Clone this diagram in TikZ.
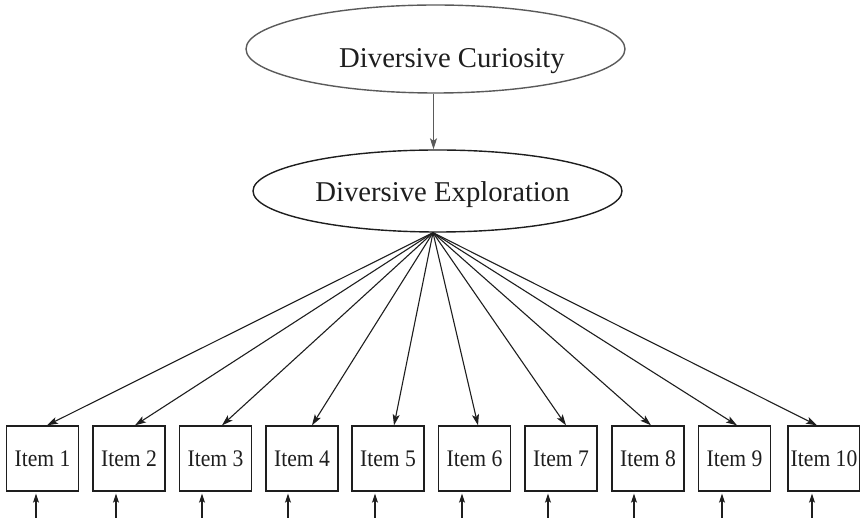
\documentclass[tikz,border=0pt]{standalone}
\usepackage{fontspec}
\usepackage{graphicx}
\setmainfont{Liberation Serif}
\usetikzlibrary{shapes.geometric,arrows.meta}
\definecolor{ink}{HTML}{1E1E1E}
\definecolor{softink}{HTML}{5A5A5A}
\begin{document}
\begin{tikzpicture}[x=1pt,y=-1pt,
  latent/.style={ellipse,draw=ink,line width=1.4pt,inner sep=0pt},
  bigtext/.style={anchor=base,text=ink,font=\fontsize{28.7}{34}\selectfont},
  itembox/.style={draw=ink,line width=1.3pt,minimum width=72pt,minimum height=65pt,
    inner sep=0pt,text=ink,font=\fontsize{21.6}{25}\selectfont},
  load/.style={draw=ink,line width=1.1pt,-{Stealth[length=11pt,width=7pt,inset=2.5pt]}},
  err/.style={draw=ink,line width=1.1pt,-{Stealth[length=9pt,width=6pt,inset=2pt]}}]
\useasboundingbox (0,0) rectangle (860,518);

% latent factors
\node[latent,draw=softink,minimum width=379pt,minimum height=88pt] (dc) at (435.5,49) {};
\node[bigtext] (dct) at (452,68) {Diversive Curiosity};
\node[latent,minimum width=369pt,minimum height=82pt] (de) at (437.5,191) {};
\node[bigtext] (det) at (442.5,202) {Diversive Exploration};

\draw[line width=1.1pt,draw=softink,-{Stealth[length=11pt,width=7pt,inset=2.5pt]}]
  ([xshift=-2pt]dc.south) -- ([xshift=-2pt]dc.south |- de.north);

\coordinate (hub) at ([xshift=-4.5pt]de.south);

% observed items with their loadings and error arrows
\foreach \k/\cx/\tip/\er in {1/42.5/4.5/-6.5, 2/129/6/-13, 3/215.5/6.5/-13.5,
    4/302/10/-14, 5/388/6/-13, 6/474.5/3.5/-12.5, 7/561/5/-13,
    8/648/3/-14, 9/734.5/2.5/-12.5, 10/824/-7/-12} {
  \node[itembox] (i\k) at (\cx,458.5) {\scalebox{1}[1.1]{Item \k}};
  \draw[load] (hub) -- ([xshift=\tip pt]i\k.north);
  \draw[err] ([xshift=\er pt,yshift=-28pt]i\k.south) -- ([xshift=\er pt,yshift=-2pt]i\k.south);
}
\end{tikzpicture}
\end{document}
